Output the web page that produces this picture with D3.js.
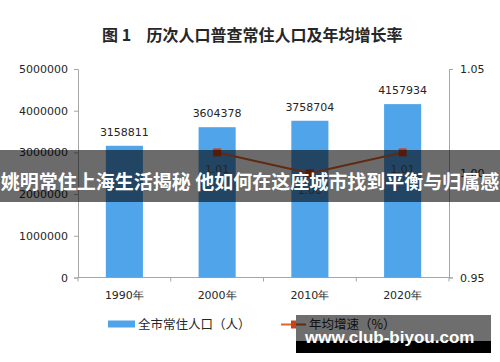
<!DOCTYPE html>
<html>
<head>
<meta charset="utf-8">
<script src="https://cdn.jsdelivr.net/npm/d3@7"></script>
<style>
	body { margin: 0; background: #fff; }
	svg { display: block; }
</style>
</head>
<body>
<div id="chart"></div>
<script>
// census years (categories) and the resident population of each
var years = ["1990年", "2000年", "2010年", "2020年"];
var population = [3158811, 3604378, 3758704, 4157934];

// average annual growth, only from the 2nd census on
var growthYears = ["2000年", "2010年", "2020年"];
var growthRates = [1.01, 1.00, 1.01];

// axis ticks
var popTicks = [0, 1000000, 2000000, 3000000, 4000000, 5000000];
var rateTicks = [0.95, 1.00, 1.05];

var titleText = "历次人口普查常住人口及年均增长率";
var legendPop = "全市常住人口（人）";
var legendRate = "年均增速（%）";
var bannerText = "姚明常住上海生活揭秘 他如何在这座城市找到平衡与归属感";
var watermarkText = "www.club-biyou.com";

/* **************************************************************************
 * setup
 ****************************************************************************/
var W = 500, H = 362;
var plot = {left: 78, right: 449, top: 69, bottom: 277.5};

var cjk = "'Noto Sans CJK SC', 'Noto Sans', sans-serif";
var num = "'DejaVu Sans', Verdana, sans-serif";

var svg = d3.select("#chart").append("svg")
	.attr("width", W)
	.attr("height", H);

var x = d3.scaleBand()
	.domain(years)
	.range([plot.left, plot.right])
	.paddingInner(0.6)
	.paddingOuter(0.3);

var yPop = d3.scaleLinear()
	.domain([0, 5000000])
	.range([plot.bottom, plot.top]);

var yRate = d3.scaleLinear()
	.domain([0.95, 1.05])
	.range([plot.bottom, plot.top]);

// title
svg.append("text")
	.attr("x", 102).attr("y", 41)
	.attr("font-family", cjk).attr("font-size", 16).attr("font-weight", "bold")
	.attr("fill", "#262626")
	.text("图 1");
svg.append("text")
	.attr("x", 146.5).attr("y", 41)
	.attr("font-family", cjk).attr("font-size", 16).attr("font-weight", "bold")
	.attr("fill", "#262626")
	.text(titleText);

/* **************************************************************************
 * axes
 ****************************************************************************/
var leftAxis = svg.append("g")
	.attr("transform", "translate(" + plot.left + ",0)")
	.call(d3.axisLeft(yPop).tickValues(popTicks).tickFormat(d3.format("d")).tickSizeOuter(0).tickSize(4).tickPadding(6));

var rightAxis = svg.append("g")
	.attr("transform", "translate(" + plot.right + ",0)")
	.call(d3.axisRight(yRate).tickValues(rateTicks).tickFormat(d3.format(".2f")).tickSizeOuter(0).tickSize(4).tickPadding(7));

// bottom axis: ticks sit between the categories, labels at the centres
var bottom = svg.append("g").attr("transform", "translate(0," + plot.bottom + ")");
bottom.append("line")
	.attr("x1", plot.left).attr("x2", plot.right)
	.attr("stroke", "#a6a6a6");
bottom.selectAll("line.tick")
	.data(d3.range(years.length + 1))
	.join("line")
	.attr("class", "tick")
	.attr("x1", function (i) { return plot.left + i * x.step(); })
	.attr("x2", function (i) { return plot.left + i * x.step(); })
	.attr("y1", 0).attr("y2", 4)
	.attr("stroke", "#a6a6a6");
bottom.selectAll("text")
	.data(years)
	.join("text")
	.attr("x", function (d) { return x(d) + x.bandwidth() / 2; })
	.attr("y", 21)
	.attr("text-anchor", "middle")
	.attr("font-family", num).attr("font-size", 11)
	.attr("fill", "#262626")
	.text(function (d) { return d; });

[leftAxis, rightAxis].forEach(function (g) {
	g.select(".domain").attr("stroke", "#a6a6a6");
	g.selectAll(".tick line").attr("stroke", "#a6a6a6");
	g.selectAll(".tick text")
		.attr("font-family", num).attr("font-size", 11)
		.attr("fill", "#262626");
});

/* **************************************************************************
 * bars and line
 ****************************************************************************/
var barColor = "#50a5ea";
var lineColor = "#e4622b";
var markColor = "#c8421c";

svg.append("g").selectAll("rect")
	.data(years)
	.join("rect")
	.attr("x", function (d) { return x(d); })
	.attr("y", function (d, i) { return yPop(population[i]); })
	.attr("width", x.bandwidth())
	.attr("height", function (d, i) { return plot.bottom - yPop(population[i]); })
	.attr("fill", barColor);

svg.append("g").selectAll("text")
	.data(years)
	.join("text")
	.attr("x", function (d) { return x(d) + x.bandwidth() / 2; })
	.attr("y", function (d, i) { return yPop(population[i]) - 10; })
	.attr("text-anchor", "middle")
	.attr("font-family", num).attr("font-size", 11)
	.attr("fill", "#262626")
	.text(function (d, i) { return population[i]; });

var line = d3.line()
	.x(function (d) { return x(d) + x.bandwidth() / 2; })
	.y(function (d, i) { return yRate(growthRates[i]); });

svg.append("path")
	.datum(growthYears)
	.attr("d", line)
	.attr("fill", "none")
	.attr("stroke", lineColor)
	.attr("stroke-width", 2);

svg.append("g").selectAll("rect")
	.data(growthYears)
	.join("rect")
	.attr("x", function (d) { return x(d) + x.bandwidth() / 2 - 4; })
	.attr("y", function (d, i) { return yRate(growthRates[i]) - 4; })
	.attr("width", 8).attr("height", 8)
	.attr("fill", markColor);

svg.append("g").selectAll("text")
	.data(growthYears)
	.join("text")
	.attr("x", function (d) { return x(d) + x.bandwidth() / 2; })
	.attr("y", function (d, i) { return yRate(growthRates[i]) + 21; })
	.attr("text-anchor", "middle")
	.attr("font-family", num).attr("font-size", 11)
	.attr("fill", "#595959")
	.text(function (d, i) { return d3.format(".2f")(growthRates[i]); });

/* **************************************************************************
 * legend
 ****************************************************************************/
var legend = svg.append("g");
legend.append("rect")
	.attr("x", 108).attr("y", 320.5).attr("width", 27).attr("height", 7)
	.attr("fill", barColor);
legend.append("text")
	.attr("x", 138).attr("y", 328.5)
	.attr("font-family", cjk).attr("font-size", 12.5)
	.attr("fill", "#262626")
	.text(legendPop);
legend.append("line")
	.attr("x1", 281).attr("x2", 306).attr("y1", 324.5).attr("y2", 324.5)
	.attr("stroke", lineColor).attr("stroke-width", 2);
legend.append("rect")
	.attr("x", 291).attr("y", 320.5).attr("width", 5).attr("height", 8)
	.attr("fill", markColor);
legend.append("text")
	.attr("x", 309).attr("y", 328.5)
	.attr("font-family", cjk).attr("font-size", 12.5)
	.attr("fill", "#262626")
	.text(legendRate);

/* **************************************************************************
 * overlays: headline banner and watermark
 ****************************************************************************/
svg.append("rect")
	.attr("x", 0).attr("y", 150).attr("width", W).attr("height", 52)
	.attr("fill", "#000").attr("fill-opacity", 0.58);
svg.append("text")
	.attr("x", W / 2).attr("y", 189)
	.attr("text-anchor", "middle")
	.attr("font-family", cjk).attr("font-size", 19).attr("font-weight", "bold")
	.attr("fill", "#fff")
	.text(bannerText);

svg.append("rect")
	.attr("x", 296).attr("y", 315).attr("width", 195).attr("height", 26)
	.attr("fill", "#000").attr("fill-opacity", 0.57);
svg.append("rect")
	.attr("x", 296).attr("y", 341).attr("width", 195).attr("height", 12)
	.attr("fill", "#000");
svg.append("text")
	.attr("x", 305).attr("y", 343)
	.attr("font-family", "'Liberation Sans', Arial, sans-serif")
	.attr("font-size", 17).attr("font-weight", "bold")
	.attr("fill", "#fff")
	.text(watermarkText);
</script>
</body>
</html>
